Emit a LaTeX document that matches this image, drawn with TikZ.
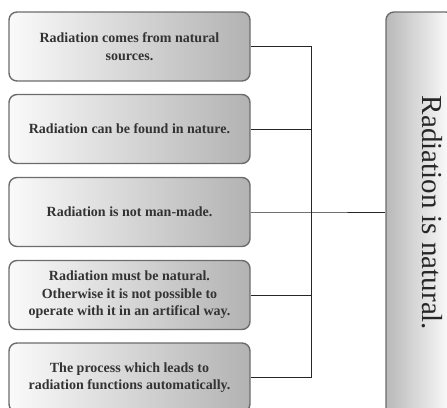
\documentclass[tikz,border=0pt]{standalone}
\usepackage{fontspec}
\setmainfont{Liberation Serif}
\begin{document}
\begin{tikzpicture}[x=1pt,y=-1pt,
  leftbox/.style={draw=gray!85!black, line width=1.4pt, rounded corners=8pt,
    left color=white!96!gray, right color=gray!60, minimum width=241pt, minimum height=69pt,
    align=center, text=black!80, font=\fontsize{14}{17.5}\selectfont\bfseries, inner sep=0pt},
  mainbox/.style={draw=gray!85!black, line width=1.4pt, rounded corners=8pt,
    left color=gray!55, right color=white, minimum width=68pt, minimum height=404pt},
  maintext/.style={rotate=-90, text=black!85, font=\fontsize{29}{32}\selectfont, inner sep=0pt},
  conn/.style={draw=black!85, line width=0.9pt}]
\useasboundingbox (0,0) rectangle (447,407);
\clip (0,0) rectangle (447,407);
\node[leftbox] (b1) at (129.5,46.5) {Radiation comes from natural\\sources.};
\node[leftbox] (b2) at (129.5,129) {Radiation can be found in nature.};
\node[leftbox] (b3) at (129.5,212) {Radiation is not man-made.};
\node[leftbox] (b4) at (129.5,295) {Radiation must be natural.\\Otherwise it is not possible to\\operate with it in an artifical way.};
\node[leftbox] (b5) at (129.5,377.5) {The process which leads to\\radiation functions automatically.};
\node[mainbox] (main) at (420,214) {};
\node[maintext] (mt) at (432,213) {Radiation is natural.};
\coordinate (bus) at (311,212);
\draw[conn] (b1.east) -| (bus);
\draw[conn] (b2.east) -| (bus);
\draw[conn] (b4.east) -| (bus);
\draw[conn] (b5.east) -| (bus);
\draw[conn] (b3.east) -- (bus) -- (bus -| main.west);
\end{tikzpicture}
\end{document}
